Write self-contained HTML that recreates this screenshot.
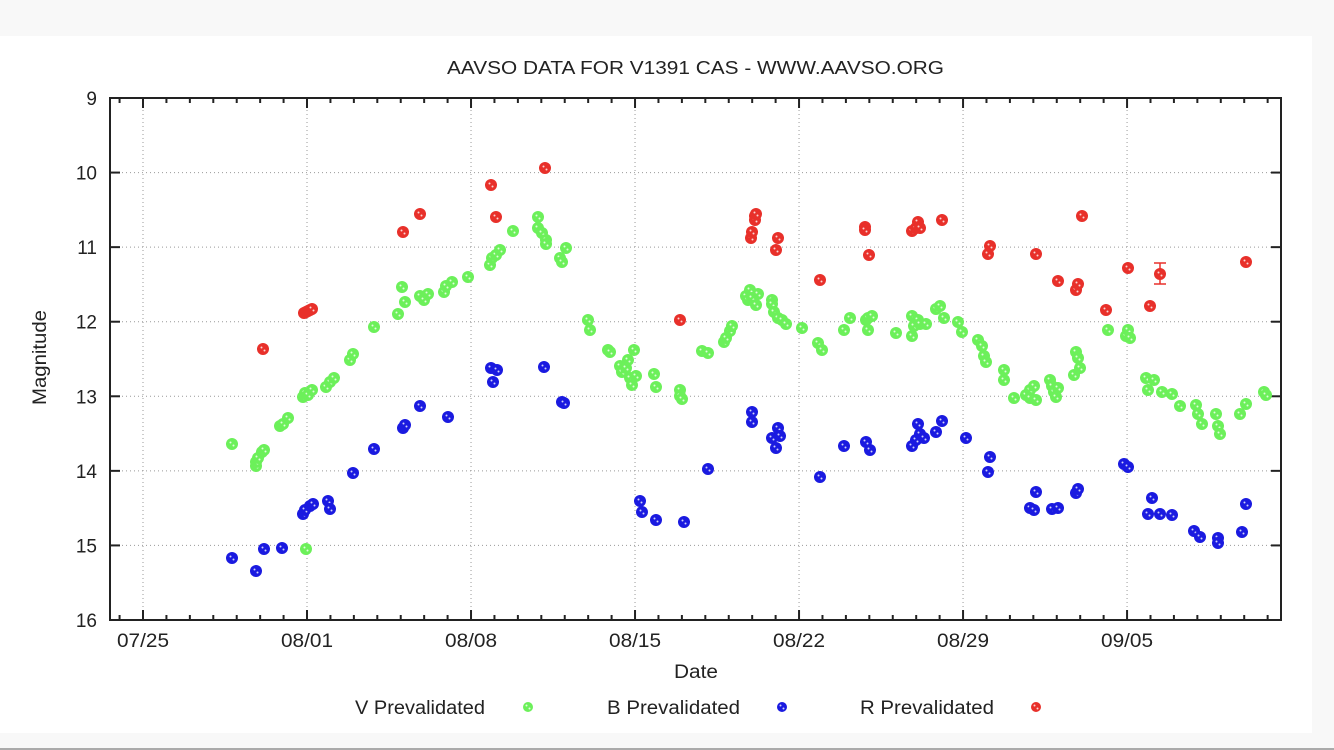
<!DOCTYPE html>
<html><head><meta charset="utf-8"><style>
html,body{margin:0;padding:0;background:#f8f8f8;}
svg{display:block;font-family:"Liberation Sans",sans-serif;}
</style></head><body>
<svg id="s" width="1334" height="750" xmlns="http://www.w3.org/2000/svg">
<rect x="0" y="0" width="1334" height="750" fill="#f8f8f8"/>
<rect x="0" y="36" width="1312" height="697" fill="#ffffff"/>
<line x1="0" y1="749" x2="1334" y2="749" stroke="#aaa" stroke-width="2"/>
<text x="447" y="74" font-size="18" textLength="497" lengthAdjust="spacingAndGlyphs" fill="#222">AAVSO DATA FOR V1391 CAS - WWW.AAVSO.ORG</text>
<text x="674" y="678" font-size="19" textLength="44" lengthAdjust="spacingAndGlyphs" fill="#222">Date</text>
<text transform="translate(46,405) rotate(-90)" font-size="19" textLength="95" lengthAdjust="spacingAndGlyphs" fill="#222">Magnitude</text>
<g id="g"></g>
<rect x="110" y="98" width="1171" height="522" fill="none" stroke="#222" stroke-width="2"/>
<text x="355" y="714" font-size="19" textLength="130" lengthAdjust="spacingAndGlyphs" fill="#222">V Prevalidated</text>
<text x="607" y="714" font-size="19" textLength="133" lengthAdjust="spacingAndGlyphs" fill="#222">B Prevalidated</text>
<text x="860" y="714" font-size="19" textLength="134" lengthAdjust="spacingAndGlyphs" fill="#222">R Prevalidated</text>
</svg>
<script>
var g=document.getElementById('g'),h='';
var L=110,R=1281,T=98,B=620,dy=(B-T)/7,dx=23.43,x0=143;
for(var m=9;m<=16;m++){var y=T+(m-9)*dy;
 if(m>9&&m<16)h+='<line x1="'+L+'" y1="'+y+'" x2="'+R+'" y2="'+y+'" stroke="#999" stroke-dasharray="1,3"/>';
 h+='<line x1="'+L+'" y1="'+y+'" x2="'+(L+10)+'" y2="'+y+'" stroke="#222" stroke-width="2"/><line x1="'+(R-10)+'" y1="'+y+'" x2="'+R+'" y2="'+y+'" stroke="#222" stroke-width="2"/>';
 h+='<text x="97" y="'+(y+7)+'" font-size="19" text-anchor="end" fill="#222">'+m+'</text>';}
var labs=['07/25','08/01','08/08','08/15','08/22','08/29','09/05'];
for(var d=-1;d<=49;d++){var x=x0+d*dx;if(x<=L+1||x>=R-1)continue;
 var maj=(d%7==0);var len=maj?10:5;
 if(maj){h+='<line x1="'+x+'" y1="'+T+'" x2="'+x+'" y2="'+B+'" stroke="#999" stroke-dasharray="1,3"/>';
  h+='<text x="'+(x-26)+'" y="'+(B+27)+'" font-size="19" textLength="52" lengthAdjust="spacingAndGlyphs" fill="#222">'+labs[d/7]+'</text>';}
 h+='<line x1="'+x+'" y1="'+T+'" x2="'+x+'" y2="'+(T+len)+'" stroke="#222" stroke-width="2"/><line x1="'+x+'" y1="'+(B-len)+'" x2="'+x+'" y2="'+B+'" stroke="#222" stroke-width="2"/>';}
function pts(a,c,r){r=r||6;for(var i=0;i<a.length;i+=2){var x=a[i],y=a[i+1];
 h+='<circle cx="'+x+'" cy="'+y+'" r="'+r+'" fill="'+c+'"/><circle cx="'+(x-1.5)+'" cy="'+(y-1.5)+'" r="1" fill="#fff" opacity=".8"/><circle cx="'+(x+1.5)+'" cy="'+(y+1.5)+'" r="1" fill="#fff" opacity=".8"/>';}}
var G=[232,444,256,466,256,462,258,458,262,452,264,450,280,426,283,424,288,418,303,397,305,393,308,395,312,390,306,549,326,387,330,382,334,378,350,360,353,354,374,327,398,314,402,287,405,302,420,296,424,300,428,294,444,292,446,286,452,282,468,277,490,265,492,258,496,255,500,250,513,231,538,217,538,228,542,233,546,240,546,244,560,258,562,262,566,248,588,320,590,330,608,350,610,352,620,366,622,372,626,368,628,360,630,378,632,385,634,350,636,376,654,374,656,387,680,390,680,396,682,399,702,351,708,353,724,342,726,338,730,331,732,326,746,296,748,300,750,290,752,298,756,305,758,294,772,300,772,304,774,312,778,318,782,320,786,324,802,328,818,343,822,350,844,330,850,318,866,320,868,330,868,318,872,316,896,333,912,316,912,336,914,326,918,320,920,324,926,324,936,309,940,306,944,318,958,322,962,332,978,340,982,346,984,356,986,362,1004,370,1004,380,1014,398,1026,395,1030,390,1030,398,1034,386,1036,400,1050,380,1052,386,1054,392,1056,397,1058,388,1074,375,1076,352,1078,358,1080,368,1108,330,1126,336,1128,330,1130,338,1146,378,1148,390,1154,380,1162,392,1172,394,1180,406,1196,405,1198,414,1202,424,1216,414,1218,426,1220,434,1240,414,1246,404,1264,392,1266,395];
var Bl=[232,558,256,571,264,549,282,548,303,514,305,510,310,506,313,504,328,501,330,509,353,473,374,449,403,428,405,425,420,406,448,417,491,368,493,382,497,370,544,367,562,402,564,403,640,501,642,512,656,520,684,522,708,469,752,412,752,422,772,438,776,448,778,428,780,436,820,477,844,446,866,442,870,450,912,446,916,440,918,424,920,434,924,438,936,432,942,421,966,438,988,472,990,457,1030,508,1034,510,1036,492,1052,509,1058,508,1076,493,1078,489,1124,464,1128,467,1148,514,1152,498,1160,514,1172,515,1194,531,1200,537,1218,538,1218,543,1242,532,1246,504];
var Rd=[263,349,304,313,306,312,308,311,310,310,312,309,403,232,420,214,491,185,496,217,545,168,680,320,751,238,752,232,755,216,755,220,756,214,776,250,778,238,820,280,865,227,865,230,869,255,912,231,916,228,918,222,920,228,942,220,988,254,990,246,1036,254,1058,281,1076,290,1078,284,1082,216,1106,310,1128,268,1150,306,1160,274,1246,262];
h+='<line x1="1160" y1="263" x2="1160" y2="284" stroke="#e8302a" stroke-width="1.5"/><line x1="1154" y1="263" x2="1166" y2="263" stroke="#e8302a" stroke-width="1.5"/><line x1="1154" y1="284" x2="1166" y2="284" stroke="#e8302a" stroke-width="1.5"/>';
pts(G,'#6cf05a');pts(Bl,'#1a1ae0');pts(Rd,'#e8302a');
pts([528,707],'#6cf05a',5);pts([782,707],'#1a1ae0',5);pts([1036,707],'#e8302a',5);
g.innerHTML=h;
</script>
</body></html>
